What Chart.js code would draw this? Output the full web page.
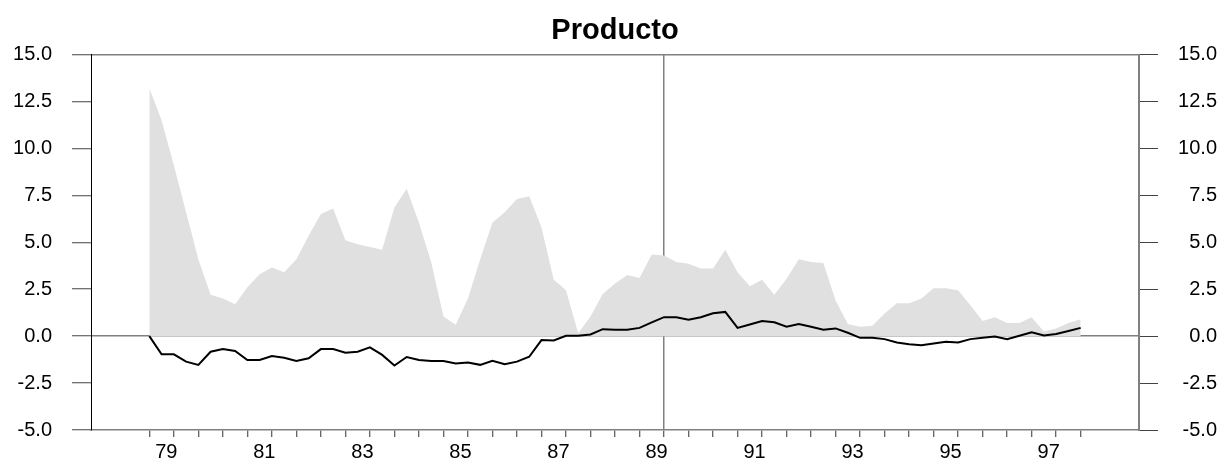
<!DOCTYPE html>
<html>
<head>
<meta charset="utf-8">
<script src="https://cdn.jsdelivr.net/npm/chart.js@4/dist/chart.umd.min.js"></script>
<style>
  html, body { margin: 0; padding: 0; background: #ffffff; }
  #wrap { width: 1224px; height: 462px; }
</style>
</head>
<body>
<div id="wrap"><canvas id="prodChart" width="1224" height="462"></canvas></div>
<script>
// --- Data (quarterly, 1979Q1 .. 1998Q1) ---
const firstYear = 1979;
const quarters = [];
for (let q = 0; q < 77; q++) quarters.push(firstYear + q / 4);

// gray area series
const bandValues = [
  13.2, 11.5, 9.1, 6.6, 4.1, 2.2, 2.0, 1.7, 2.6, 3.3, 3.65, 3.4, 4.1, 5.35, 6.5, 6.8,
  5.1, 4.9, 4.75, 4.6, 6.85, 7.85, 6.05, 3.95, 1.05, 0.6, 2.0, 4.1, 6.05, 6.6, 7.3, 7.45,
  5.8, 3.0, 2.45, 0.15, 1.05, 2.25, 2.8, 3.25, 3.1, 4.35, 4.3, 3.95, 3.85, 3.6, 3.6, 4.6,
  3.4, 2.65, 3.0, 2.2, 3.05, 4.1, 3.95, 3.9, 1.9, 0.65, 0.5, 0.55, 1.2, 1.75, 1.75, 2.0,
  2.55, 2.55, 2.45, 1.65, 0.8, 1.0, 0.7, 0.7, 1.0, 0.25, 0.4, 0.7, 0.9
];

// black line series
const lineValues = [
  0, -0.97, -0.97, -1.36, -1.53, -0.83, -0.69, -0.79, -1.27, -1.27, -1.06, -1.15, -1.32, -1.18, -0.69, -0.69,
  -0.88, -0.83, -0.6, -1.0, -1.57, -1.11, -1.27, -1.32, -1.32, -1.46, -1.41, -1.53, -1.32, -1.5, -1.36, -1.1,
  -0.21, -0.23, 0.02, 0.02, 0.09, 0.37, 0.34, 0.34, 0.44, 0.73, 1.01, 1.01, 0.87, 1.01, 1.22, 1.29,
  0.44, 0.62, 0.81, 0.74, 0.5, 0.64, 0.5, 0.34, 0.41, 0.18, -0.09, -0.09, -0.16, -0.34, -0.43, -0.48,
  -0.39, -0.3, -0.34, -0.16, -0.09, -0.02, -0.16, 0.02, 0.21, 0.04, 0.11, 0.27, 0.44
];

// x tick labels (every other year), ticks every half year
const labelYears = [1979, 1981, 1983, 1985, 1987, 1989, 1991, 1993, 1995, 1997];
const yearLabels = ['79', '81', '83', '85', '87', '89', '91', '93', '95', '97'];
const markerYear = 1989.5;   // vertical line, mid 1989

const FONT = "'Liberation Sans', Arial, sans-serif";
const frameGray = '#808080';

const halfYearTicks = [];
for (let v = 1979; v <= 1998; v += 0.5) halfYearTicks.push({ value: v });

const yTickCallback = v => v.toFixed(1);

new Chart(document.getElementById('prodChart'), {
  type: 'line',
  data: {
    labels: quarters,
    datasets: [
      {
        label: 'linea',
        data: lineValues,
        borderColor: '#000000',
        borderWidth: 2,
        pointRadius: 0,
        tension: 0,
        fill: false
      },
      {
        label: 'banda',
        data: bandValues,
        borderWidth: 0,
        borderColor: 'rgba(0,0,0,0)',
        backgroundColor: '#e0e0e0',
        pointRadius: 0,
        tension: 0,
        fill: 'origin'
      }
    ]
  },
  options: {
    responsive: false,
    animation: false,
    layout: { padding: { left: 13, right: 7, top: 0, bottom: 0 } },
    plugins: {
      legend: { display: false },
      tooltip: { enabled: false },
      title: {
        display: true,
        text: 'Producto',
        color: '#000000',
        font: { family: FONT, size: 29, weight: 'bold' },
        padding: { top: 13.5, bottom: 6.2 }
      }
    },
    scales: {
      x: {
        type: 'linear',
        min: 1977.81,
        max: 1999.19,
        afterBuildTicks: s => { s.ticks = halfYearTicks.map(t => ({ value: t.value })); },
        afterFit: s => { s.height = 30; },
        border: { color: frameGray, width: 1.5 },
        grid: {
          color: c => (c.tick && c.tick.value === markerYear ? frameGray : 'rgba(0,0,0,0)'),
          lineWidth: 1.5,
          tickColor: '#333333',
          tickLength: 7,
          tickWidth: 1
        },
        ticks: {
          autoSkip: false,
          maxRotation: 0,
          padding: 3,
          labelOffset: 17,
          color: '#000000',
          font: { family: FONT, size: 20 },
          callback: v => {
            const i = labelYears.indexOf(v);
            return i >= 0 ? yearLabels[i] : '';
          }
        }
      },
      y: {
        position: 'left',
        min: -5,
        max: 15,
        afterFit: s => { s.width = 78; },
        border: { color: '#000000', width: 1 },
        grid: {
          color: c => (c.tick && (c.tick.value === 0 || c.tick.value === 15) ? frameGray : 'rgba(0,0,0,0)'),
          lineWidth: 1.5,
          tickColor: '#444444',
          tickLength: 19,
          tickWidth: 1
        },
        ticks: {
          stepSize: 2.5,
          padding: 20,
          color: '#000000',
          font: { family: FONT, size: 20 },
          callback: yTickCallback
        }
      },
      y2: {
        position: 'right',
        min: -5,
        max: 15,
        afterFit: s => { s.width = 78; },
        border: { color: frameGray, width: 2 },
        grid: {
          drawOnChartArea: false,
          tickColor: '#444444',
          tickLength: 19,
          tickWidth: 1
        },
        ticks: {
          stepSize: 2.5,
          padding: 20,
          crossAlign: 'far',
          color: '#000000',
          font: { family: FONT, size: 20 },
          callback: yTickCallback
        }
      }
    }
  }
});
</script>
</body>
</html>
